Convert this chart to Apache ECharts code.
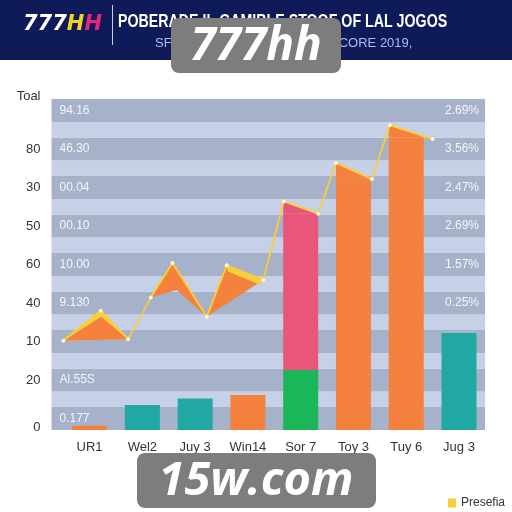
<!DOCTYPE html>
<html><head><meta charset="utf-8">
<script src="https://cdn.jsdelivr.net/npm/echarts@6/dist/echarts.min.js"></script>
<style>html,body{margin:0;padding:0;background:#fff}#c{width:512px;height:512px}</style>
</head><body><div id="c"></div>
<script>
// ---- data ----
const categories = ['UR1', 'Wel2', 'Juy 3', 'Win14', 'Sor 7', 'Toy 3', 'Tuy 6', 'Jug 3'];
const baseValues = [0.56, 3.25, 4.1, 4.55, 7.8, 32.65, 38.0, 12.6];
const stackValues = [0, 0, 0, 0, 20.3, 0, 0, 0];
const lineX = [0, 0.71, 1.23, 1.66, 2.07, 2.72, 3.10, 3.79, 4.18, 4.83, 5.17, 5.85, 6.19, 7.0];
const lineY = [11.6, 15.5, 11.8, 17.2, 21.7, 14.7, 21.4, 19.5, 29.7, 28.1, 34.7, 32.6, 39.6, 37.8];
const yTickLabels = ['0', '20', '10', '40', '60', '50', '30', '80', ''];
const innerLabels = ['0.177', 'Al.55S', '', '9.130', '10.00', '00.10', '00.04', '46.30', '94.16'];
const rightLabels = ['', '', '', '0.25%', '1.57%', '2.69%', '2.47%', '3.56%', '2.69%'];
const polygons = [
  [[0, 11.6], [0.71, 15.5], [1.23, 11.8]],
  [[0, 11.6], [0.72, 14.7], [1.23, 11.8]],
  [[1.66, 17.2], [2.07, 21.7], [2.72, 14.7], [2.15, 18.2]],
  [[2.72, 14.7], [3.10, 21.4], [3.79, 19.5]],
  [[3.10, 21.4], [3.79, 19.5], [3.72, 18.9], [3.12, 20.6]],
  [[4.168, 29.7], [4.832, 28.1], [4.168, 28.1]],
  [[5.168, 34.7], [5.832, 32.65], [5.168, 32.65]],
  [[6.168, 39.6], [7.0, 37.8], [6.832, 38.0], [6.168, 38.0]]
];
// ---- styles ----
const ORANGE = '#f5813f', TEAL = '#22a8a4', GREEN = '#1ab657', PINK = '#e9567c', YELLOW = '#f8cf36';
const baseColors = [ORANGE, TEAL, TEAL, ORANGE, GREEN, ORANGE, ORANGE, TEAL];
const polyColors = [YELLOW, ORANGE, ORANGE, ORANGE, YELLOW, PINK, ORANGE, ORANGE];
const DARK = '#a6b1ca', LIGHT = '#c6d0e7';
const FONT = 'Liberation Sans, Arial, sans-serif';

const chart = echarts.init(document.getElementById('c'), null, {renderer: 'canvas'});
const mk = (color, size) => ({
  a: {padding: [0, 0, 23, 0], fontSize: size, color: color, fontFamily: FONT},
  z: {padding: [0, 0, 6, 0], fontSize: size, color: color, fontFamily: FONT}
});
const wrap = (t) => (t ? '{a|' + t + '}' : '');
chart.setOption({
  animation: false,
  backgroundColor: '#ffffff',
  textStyle: {fontFamily: FONT},
  legend: {
    orient: 'vertical', left: 443, top: 492, itemWidth: 8, itemHeight: 9, itemGap: 8, icon: 'rect',
    textStyle: {fontSize: 12, color: '#333'},
    data: [{name: 'Presefia', itemStyle: {color: YELLOW}},
           {name: 'Tesoro', itemStyle: {color: '#e4eba0'}}]
  },
  grid: [
    {left: 51.5, right: 27, top: 99, bottom: 82},
    {left: 63.2, right: 26.6, top: 99, bottom: 82}
  ],
  xAxis: [
    {gridIndex: 0, type: 'value', min: 0, max: 1, show: false},
    {gridIndex: 1, type: 'category', data: categories,
     axisLine: {show: false}, axisTick: {show: false},
     axisLabel: {margin: 11, fontSize: 13, color: '#333'}},
    {gridIndex: 1, type: 'value', min: 0, max: 8, show: false}
  ],
  yAxis: [
    {gridIndex: 0, type: 'value', min: 0, max: 43, interval: 1, position: 'left',
     axisLine: {show: false}, axisTick: {show: false}, axisLabel: {show: false},
     splitLine: {show: false},
     splitArea: {show: true, areaStyle: {color: [DARK, DARK, DARK, LIGHT, LIGHT]}}},
    {gridIndex: 0, type: 'value', min: 0, max: 43, interval: 5, position: 'left',
     name: 'Toal', nameLocation: 'end', nameGap: 3,
     nameTextStyle: {align: 'right', verticalAlign: 'middle', padding: [0, 11, 0, 0], fontSize: 13, color: '#333'},
     axisLine: {show: false}, axisTick: {show: false}, splitLine: {show: false},
     axisLabel: {margin: 11, formatter: v => {
       const t = yTickLabels[v / 5];
       if (!t) return '';
       return v === 0 ? '{z|' + t + '}' : '{a|' + t + '}';
     }, rich: mk('#333', 13)}},
    {gridIndex: 0, type: 'value', min: 0, max: 43, interval: 5, position: 'left',
     axisLine: {show: false}, axisTick: {show: false}, splitLine: {show: false},
     axisLabel: {inside: true, margin: 8, formatter: v => wrap(innerLabels[v / 5]), rich: mk('#f3f5fb', 12)}},
    {gridIndex: 0, type: 'value', min: 0, max: 43, interval: 5, position: 'right',
     axisLine: {show: false}, axisTick: {show: false}, splitLine: {show: false},
     axisLabel: {inside: true, margin: 6, formatter: v => wrap(rightLabels[v / 5]), rich: mk('#f3f5fb', 12)}},
    {gridIndex: 1, type: 'value', min: 0, max: 43, show: false}
  ],
  series: [
    {name: 'Tesoro', type: 'bar', xAxisIndex: 1, yAxisIndex: 4, stack: 's', barWidth: 35, z: 2,
     itemStyle: {color: '#e4eba0'},
     data: baseValues.map((v, i) => ({value: v, itemStyle: {color: baseColors[i]}}))},
    {name: 'Tesoro2', type: 'bar', xAxisIndex: 1, yAxisIndex: 4, stack: 's', barWidth: 35, z: 2,
     itemStyle: {color: PINK},
     data: stackValues},
    {name: 'shapes', type: 'custom', xAxisIndex: 2, yAxisIndex: 4, z: 3, silent: true,
     data: polygons.map(p => [p[0][0], p[0][1]]),
     renderItem: (params, api) => {
       const pts = polygons[params.dataIndex].map(p => api.coord(p));
       return {type: 'polygon', shape: {points: pts}, style: {fill: polyColors[params.dataIndex]}};
     }},
    {name: 'Presefia', type: 'line', xAxisIndex: 2, yAxisIndex: 4, z: 4,
     data: lineX.map((x, i) => [x, lineY[i]]),
     lineStyle: {color: YELLOW, width: 1.8},
     symbol: 'circle', symbolSize: 4,
     itemStyle: {color: '#fff6cf', borderWidth: 0}}
  ],
  graphic: [
    {type: 'rect', x: 0, y: 0, shape: {width: 512, height: 60}, style: {fill: '#0f1b58'}, z: 10},
    {type: 'rect', x: 112, y: 5, shape: {width: 1, height: 40}, style: {fill: '#c9d0ee'}, z: 11},
    {type: 'text', x: 23, y: 25, z: 11, style: {
      text: '{w|777}{y|H}{m|H}', verticalAlign: 'middle', rich: {
        w: {fill: '#ffffff', font: 'italic 900 21px DejaVu Sans'},
        y: {fill: '#f5d21f', font: 'italic 900 21px DejaVu Sans'},
        m: {fill: '#e2287d', font: 'italic 900 21px DejaVu Sans'}}}},
    {type: 'text', x: 118, y: 22, scaleX: 0.79, z: 11, style: {
      text: 'POBERADE IL GAMIBLE STOOF OF LAL JOGOS', fill: '#ffffff', verticalAlign: 'middle',
      font: 'bold 18px "Liberation Sans", sans-serif'}},
    {type: 'text', x: 155, y: 43, z: 11, style: {
      text: 'SFORTS GAMING RESULTS SCORE 2019,', fill: '#a9bdf3', verticalAlign: 'middle',
      font: '13px "Liberation Sans", sans-serif'}},
    {type: 'rect', x: 171, y: 18, shape: {width: 170, height: 55, r: 8}, style: {fill: '#7d7d7d'}, z: 20},
    {type: 'text', x: 256, y: 47, z: 21, style: {
      text: '777hh', fill: '#ffffff', align: 'center', verticalAlign: 'middle',
      font: 'italic bold 46px "Open Sans", "DejaVu Sans", sans-serif'}},
    {type: 'rect', x: 137, y: 453, shape: {width: 239, height: 55, r: 8}, style: {fill: '#7d7d7d'}, z: 20},
    {type: 'text', x: 256, y: 482, z: 21, style: {
      text: '15w.com', fill: '#ffffff', align: 'center', verticalAlign: 'middle',
      font: 'italic bold 47px "Open Sans", "DejaVu Sans", sans-serif'}}
  ]
});
</script>
</body></html>
